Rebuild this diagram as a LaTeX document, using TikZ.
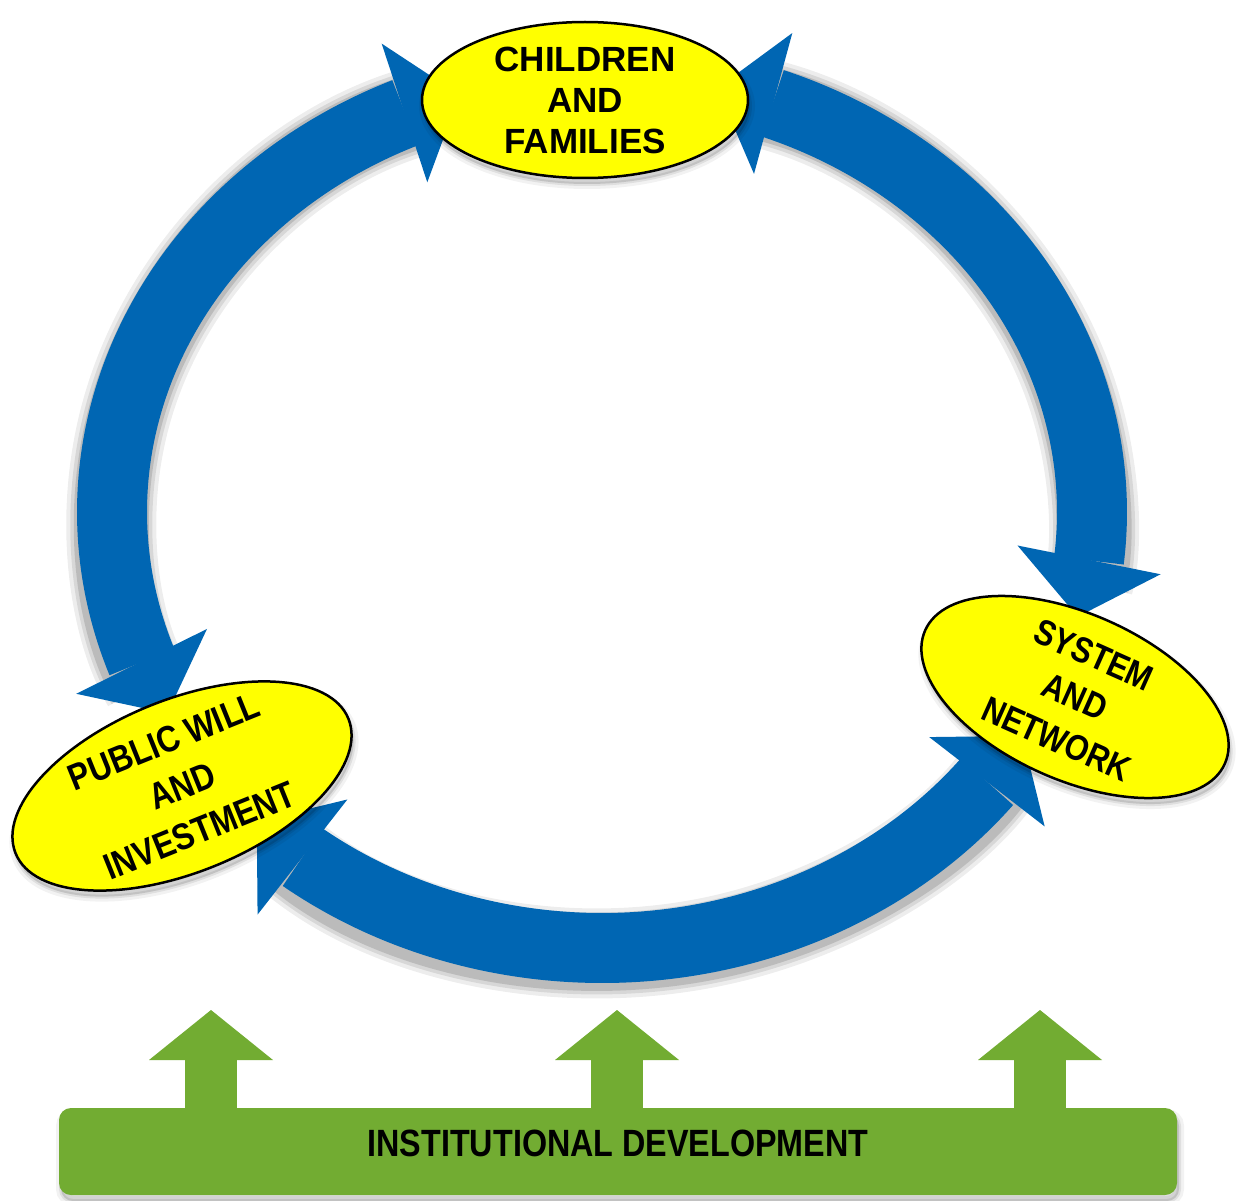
\documentclass[tikz,border=0pt]{standalone}
\usepackage{fontspec}
\setmainfont{Liberation Sans}
\newfontfamily\condsans[FakeStretch=0.85]{Liberation Sans}
\usetikzlibrary{arrows.meta,bending,shapes.geometric,shadows}
\definecolor{ringblue}{RGB}{0,102,179}
\definecolor{nodeyellow}{RGB}{255,255,0}
\definecolor{bargreen}{RGB}{114,172,50}
\begin{document}
\begin{tikzpicture}[x=1pt,y=1pt,
  ringtip/.tip={Triangle[length=58pt,width=146pt,line width=0pt]},
  greentip/.tip={Triangle[length=50pt,width=124pt,line width=0pt]},
  ringarrow/.style={draw=ringblue, line width=70pt, ringtip-ringtip,
    preaction={draw=black, draw opacity=0.07, line width=90pt, -, shorten <=40pt, shorten >=40pt, transform canvas={yshift=-5pt}},
    preaction={draw=black, draw opacity=0.09, line width=82pt, -, shorten <=40pt, shorten >=40pt, transform canvas={yshift=-5pt}},
    preaction={draw=black, draw opacity=0.13, line width=75pt, -, shorten <=40pt, shorten >=40pt, transform canvas={yshift=-5pt}}},
  softshadow/.style={
    general shadow={draw=black, fill=black, line width=10pt, opacity=0.05, shadow xshift=2pt, shadow yshift=-6pt},
    general shadow={draw=black, fill=black, line width=4pt, opacity=0.08, shadow xshift=2pt, shadow yshift=-6pt}},
  bubble/.style={ellipse, draw=black, line width=2.5pt, fill=nodeyellow, inner sep=0pt, align=center, text=black, softshadow},
  bar/.style={rectangle, fill=bargreen, rounded corners=12pt, minimum width=1118pt, minimum height=87pt, inner sep=0pt, text depth=16pt, text=black,
    font=\condsans\fontsize{38pt}{44pt}\selectfont\bfseries, softshadow},
  greenarrow/.style={draw=bargreen, line width=52pt, -greentip}
]
\fill[white] (0,0) rectangle (1236,-1201);
\useasboundingbox (0,0) rectangle (1236,-1201);

% ring of three double-headed arrows
\coordinate (O) at (602,-512);
\path (O) ++(106.9:490pt and 436pt) coordinate (lA);
\path (O) ++(76.4:490pt and 436pt) coordinate (rA);
\path (O) ++(225.2:490pt and 436pt) coordinate (bA);
\draw[ringarrow] (lA) arc[start angle=106.9, end angle=207.5, x radius=490pt, y radius=436pt];
\draw[ringarrow] (rA) arc[start angle=76.4, end angle=-13.9, x radius=490pt, y radius=436pt];
\draw[ringarrow] (bA) arc[start angle=225.2, end angle=329.1, x radius=490pt, y radius=436pt];

% ellipses
\node[bubble, minimum width=326pt, minimum height=156pt,
  font=\fontsize{35pt}{41pt}\selectfont\bfseries] (cf) at (585,-100) {CHILDREN\\AND\\FAMILIES};
\node[bubble, rotate=22, minimum width=359pt, minimum height=170pt,
  font=\condsans\fontsize{37pt}{48pt}\selectfont\bfseries] (pw) at (182,-786) {PUBLIC WILL\\AND\\INVESTMENT};
\node[bubble, rotate=-24, minimum width=328pt, minimum height=159pt,
  font=\condsans\fontsize{36pt}{46pt}\selectfont\bfseries] (sn) at (1075,-697) {SYSTEM\\AND\\NETWORK};

% institutional development bar and arrows
\coordinate (g1) at (211,-1010);
\coordinate (g2) at (617,-1010);
\coordinate (g3) at (1040,-1010);
\node[bar] (id) at (618,-1151.5) {INSTITUTIONAL DEVELOPMENT};
\draw[greenarrow] (g1 |- id.north) -- (g1);
\draw[greenarrow] (g2 |- id.north) -- (g2);
\draw[greenarrow] (g3 |- id.north) -- (g3);
\end{tikzpicture}
\end{document}
